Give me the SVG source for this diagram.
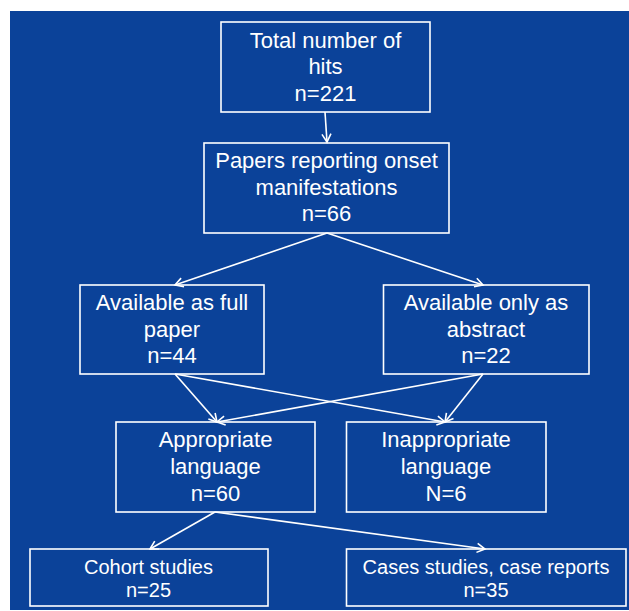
<svg xmlns="http://www.w3.org/2000/svg" width="629" height="611" viewBox="0 0 629 611">
  <style>
    .box { fill: none; stroke: #ffffff; stroke-width: 1.6; }
    .t { fill: #ffffff; font-family: "Liberation Sans", Arial, sans-serif; font-size: 22px; text-anchor: middle; }
    .s { font-size: 20px; }
    .conn { stroke: #ffffff; stroke-width: 1.6; fill: none; marker-end: url(#arr); }
  </style>
  <defs>
    <marker id="arr" markerUnits="userSpaceOnUse" markerWidth="12" markerHeight="12" viewBox="-10 -6 12 12" refX="0" refY="0" orient="auto">
      <path d="M-8,-4.5 L0,0 L-8,4.5" fill="none" stroke="#ffffff" stroke-width="1.6" stroke-linejoin="miter"/>
    </marker>
  </defs>
  <rect x="0" y="0" width="629" height="611" fill="#ffffff"/>
  <rect x="10" y="11" width="619" height="599" fill="#0B4299"/>

  <g id="connectors">
    <line class="conn" x1="325" y1="112" x2="327" y2="142"/>
    <line class="conn" x1="327" y1="233" x2="175" y2="285"/>
    <line class="conn" x1="327" y1="233" x2="483" y2="285"/>
    <line class="conn" x1="175" y1="374" x2="217" y2="422"/>
    <line class="conn" x1="175" y1="374" x2="445" y2="422"/>
    <line class="conn" x1="483" y1="374" x2="217" y2="422"/>
    <line class="conn" x1="483" y1="374" x2="445" y2="422"/>
    <line class="conn" x1="215" y1="512" x2="150" y2="549"/>
    <line class="conn" x1="215" y1="512" x2="485" y2="549"/>
  </g>

  <g id="n1">
    <rect class="box" x="221" y="22" width="209" height="90"/>
    <text class="t" x="325.5" y="47.5">Total number of</text>
    <text class="t" x="325.5" y="74">hits</text>
    <text class="t" x="325.5" y="100.5">n=221</text>
  </g>
  <g id="n2">
    <rect class="box" x="204" y="143" width="245" height="90"/>
    <text class="t" x="326.5" y="168">Papers reporting onset</text>
    <text class="t" x="326.5" y="194.5">manifestations</text>
    <text class="t" x="326.5" y="221">n=66</text>
  </g>
  <g id="n3">
    <rect class="box" x="80" y="285" width="184" height="89"/>
    <text class="t" x="172" y="310">Available as full</text>
    <text class="t" x="172" y="336.5">paper</text>
    <text class="t" x="172" y="363">n=44</text>
  </g>
  <g id="n4">
    <rect class="box" x="383.5" y="285" width="205.5" height="89"/>
    <text class="t" x="486" y="310">Available only as</text>
    <text class="t" x="486" y="336.5">abstract</text>
    <text class="t" x="486" y="363">n=22</text>
  </g>
  <g id="n5">
    <rect class="box" x="116" y="422" width="199" height="90"/>
    <text class="t" x="215.5" y="447">Appropriate</text>
    <text class="t" x="215.5" y="473.5">language</text>
    <text class="t" x="215.5" y="500.5">n=60</text>
  </g>
  <g id="n6">
    <rect class="box" x="346.5" y="422" width="199.5" height="90"/>
    <text class="t" x="446" y="447">Inappropriate</text>
    <text class="t" x="446" y="473.5">language</text>
    <text class="t" x="446" y="500.5">N=6</text>
  </g>
  <g id="n7">
    <rect class="box" x="30" y="549" width="238" height="57"/>
    <text class="t s" x="148.5" y="573.5">Cohort studies</text>
    <text class="t s" x="148.5" y="597">n=25</text>
  </g>
  <g id="n8">
    <rect class="box" x="346.5" y="549" width="279.5" height="57"/>
    <text class="t s" x="486" y="573.5">Cases studies, case reports</text>
    <text class="t s" x="486" y="597">n=35</text>
  </g>
</svg>
